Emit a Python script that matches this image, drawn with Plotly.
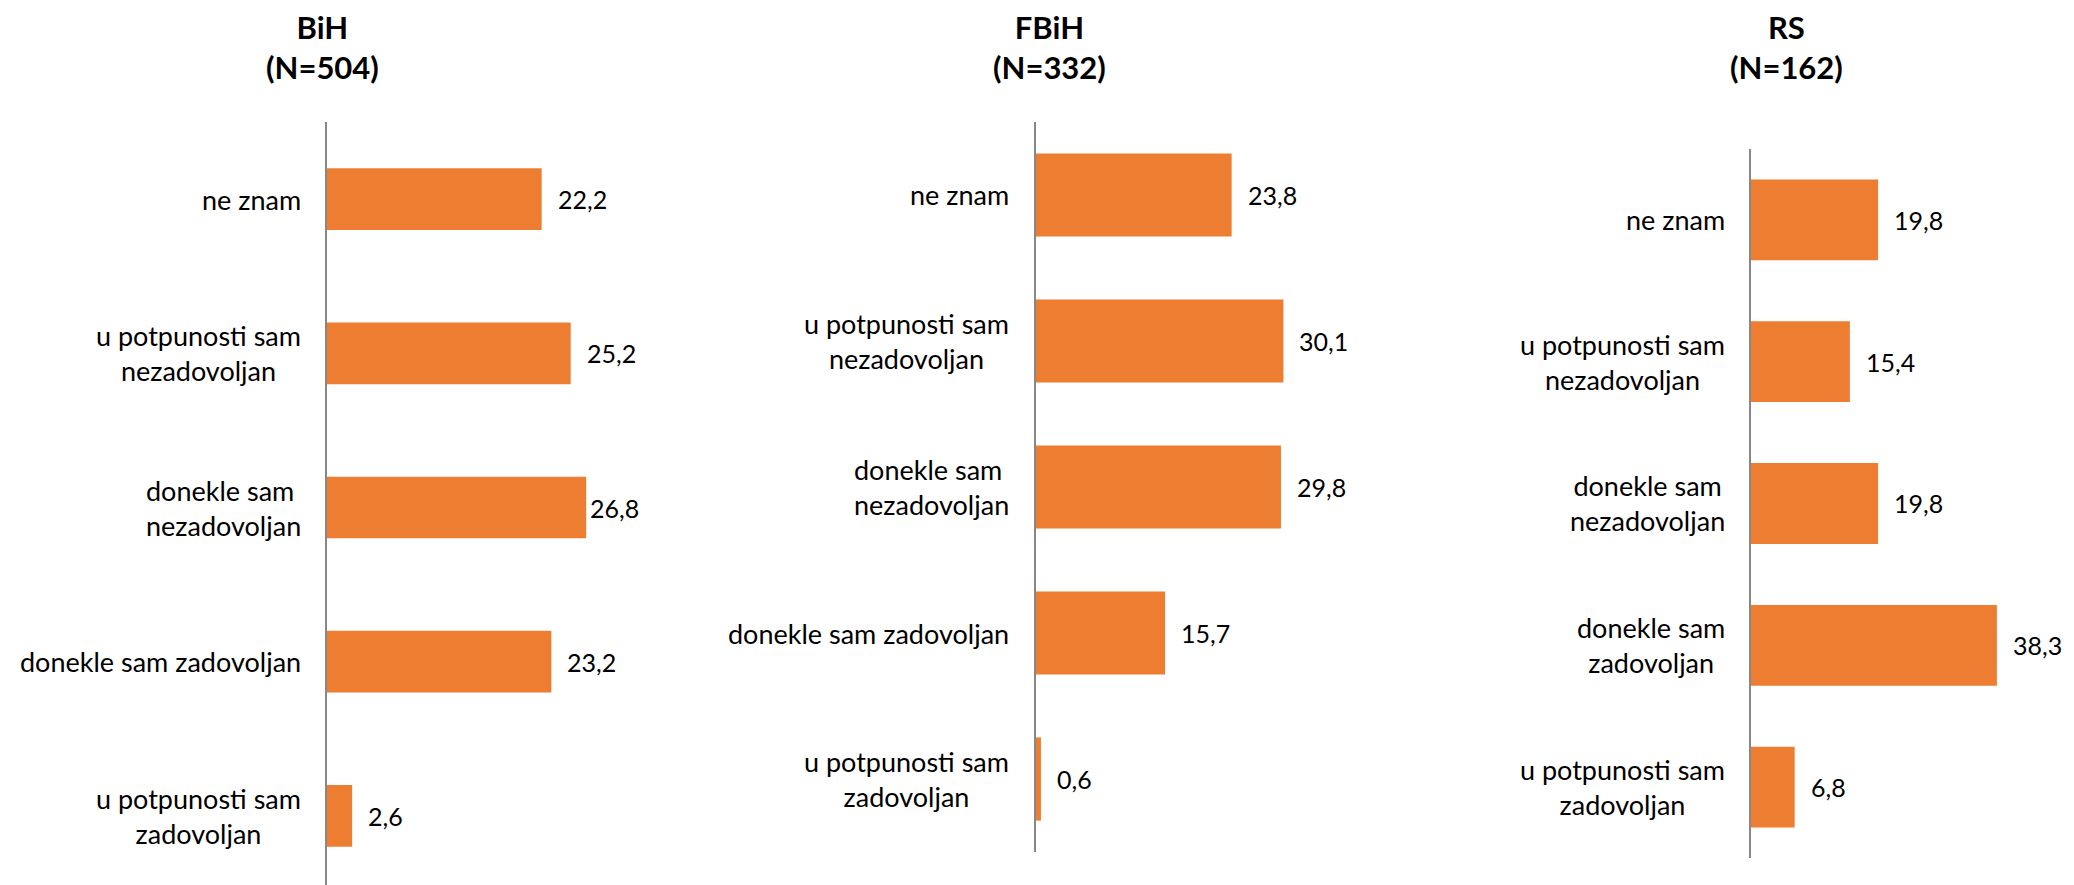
import plotly.graph_objects as go

# categories, top to bottom
categories = [
    "ne znam",
    "u potpunosti sam nezadovoljan",
    "donekle sam nezadovoljan",
    "donekle sam zadovoljan",
    "u potpunosti sam zadovoljan",
]

# tick label text for each panel (wrapping differs per panel)
labels_bih = [
    "ne znam",
    "u potpunosti sam<br>nezadovoljan",
    "donekle sam <br>nezadovoljan",
    "donekle sam zadovoljan",
    "u potpunosti sam<br>zadovoljan",
]
labels_fbih = labels_bih
labels_rs = [
    "ne znam",
    "u potpunosti sam<br>nezadovoljan",
    "donekle sam<br>nezadovoljan",
    "donekle sam<br>zadovoljan",
    "u potpunosti sam<br>zadovoljan",
]

values_bih = [22.2, 25.2, 26.8, 23.2, 2.6]
values_fbih = [23.8, 30.1, 29.8, 15.7, 0.6]
values_rs = [19.8, 15.4, 19.8, 38.3, 6.8]

titles = ["BiH<br>(N=504)", "FBiH<br>(N=332)", "RS<br>(N=162)"]

W, H = 2074, 885
OFF = 8  # page body margin, the figure starts 8px in
ORANGE = "#ED7D31"
AXIS_GREY = "#878787"
FONT = "Lato"


def fx(px):
    return (px - OFF) / W


def fy(py):
    return 1 - (py - OFF) / H


# panel geometry in screen pixels: axis x, px per unit, x max, plot top, plot bottom, bar width
panels = [
    dict(vals=values_bih, labels=labels_bih, ax=327, ppu=9.67, xmax=30, top=122, bottom=893,
         bw=0.4, tx=322, shifts=[14, 14, 2, 14, 14], lab_gap=24),
    dict(vals=values_fbih, labels=labels_fbih, ax=1036, ppu=8.22, xmax=35, top=122, bottom=852,
         bw=0.57, tx=1049, shifts=[14] * 5, lab_gap=25),
    dict(vals=values_rs, labels=labels_rs, ax=1751, ppu=6.42, xmax=45, top=149, bottom=858,
         bw=0.57, tx=1786, shifts=[14] * 5, lab_gap=24),
]

fig = go.Figure()
annotations = []
layout_axes = {}

for i, p in enumerate(panels):
    n = "" if i == 0 else str(i + 1)
    xa, ya = "x" + n, "y" + n
    fig.add_trace(go.Bar(
        x=p["vals"], y=categories, orientation="h", width=p["bw"],
        marker=dict(color=ORANGE, line=dict(width=0)),
        xaxis=xa, yaxis=ya, hoverinfo="x+y",
    ))

    x0 = fx(p["ax"])
    x1 = min(fx(p["ax"] + p["xmax"] * p["ppu"]), 1.0)
    layout_axes["xaxis" + n] = dict(
        domain=[x0, x1], range=[0, p["xmax"]], anchor=ya,
        visible=False, fixedrange=True,
    )
    layout_axes["yaxis" + n] = dict(
        domain=[max(fy(p["bottom"]), 0), fy(p["top"])],
        anchor=xa, type="category", categoryorder="array", categoryarray=categories,
        range=[4.5, -0.5], showticklabels=False, ticks="",
        showline=True, linecolor=AXIS_GREY, linewidth=2,
        showgrid=False, zeroline=False, fixedrange=True,
    )

    # category labels, centred lines, right-aligned to the axis
    for cat, lab in zip(categories, p["labels"]):
        annotations.append(dict(
            x=0, y=cat, xref=xa, yref=ya, text=lab, showarrow=False,
            xanchor="right", yanchor="middle", align="center", xshift=-p["lab_gap"],
            font=dict(family=FONT, size=27, color="#000000"),
        ))

    # value labels
    for cat, v, s in zip(categories, p["vals"], p["shifts"]):
        annotations.append(dict(
            x=v, y=cat, xref=xa, yref=ya, text=f"{v:.1f}".replace(".", ","),
            showarrow=False, xanchor="left", yanchor="middle", xshift=s,
            font=dict(family=FONT, size=25, color="#000000"),
        ))

    # panel title
    annotations.append(dict(
        x=fx(p["tx"]), y=fy(47), xref="paper", yref="paper",
        text="<b>" + titles[i] + "</b>", showarrow=False,
        xanchor="center", yanchor="middle", align="center",
        font=dict(family=FONT, size=31, color="#000000"),
    ))

fig.update_layout(
    width=W, height=H,
    margin=dict(l=0, r=0, t=0, b=0),
    paper_bgcolor="white", plot_bgcolor="white",
    showlegend=False,
    annotations=annotations,
    **layout_axes,
)

fig.write_html("out.html", config={"displayModeBar": False})
